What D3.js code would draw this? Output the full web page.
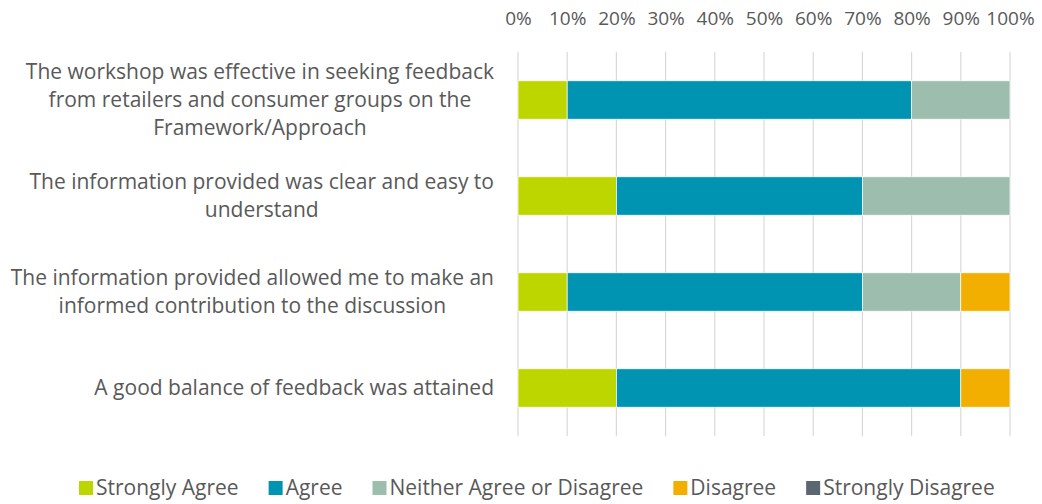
<!DOCTYPE html>
<html>
<head>
<meta charset="utf-8">
<script src="https://cdn.jsdelivr.net/npm/d3@7"></script>
<style>
  body { margin: 0; background: #fff; }
  svg text { font-family: "Open Sans", sans-serif; fill: #595959; }
</style>
</head>
<body>
<div id="chart"></div>
<script>
// data
var categories = [
  "The workshop was effective in seeking feedback|from retailers and consumer groups on the|Framework/Approach",
  "The information provided was clear and easy to|understand",
  "The information provided allowed me to make an|informed contribution to the discussion",
  "A good balance of feedback was attained"
]
var seriesNames = ["Strongly Agree", "Agree", "Neither Agree or Disagree", "Disagree", "Strongly Disagree"]
var seriesColors = ["#bed600", "#0093b2", "#9dbdaf", "#f2af00", "#5b6770"]
var stronglyAgree = [10, 20, 10, 20]
var agree = [70, 50, 60, 70]
var neither = [20, 30, 20, 0]
var disagree = [0, 0, 10, 10]
var stronglyDisagree = [0, 0, 0, 0]
var tickValues = [0, 10, 20, 30, 40, 50, 60, 70, 80, 90, 100]

var W = 1042, H = 504
var margin = {top: 52, right: 32, bottom: 68, left: 518}
var width = W - margin.left - margin.right,
    height = H - margin.top - margin.bottom

var svg = d3.select("#chart").append("svg")
    .attr("width", W)
    .attr("height", H)

var g = svg.append("g")
    .attr("transform", "translate(" + margin.left + "," + margin.top + ")")

var x = d3.scaleLinear().domain([0, 100]).range([0, width])
var y = d3.scaleBand().domain(d3.range(categories.length)).range([0, height]).paddingInner(0.6).paddingOuter(0.3)

// gridlines
g.append("g").selectAll("line")
  .data(tickValues)
  .enter().append("line")
    .attr("x1", d => x(d)).attr("x2", d => x(d))
    .attr("y1", 0).attr("y2", height)
    .attr("stroke", "#d9d9d9").attr("stroke-width", 1.2)

// top axis labels
var xAxis = g.append("g")
  .call(d3.axisTop(x).tickValues(tickValues).tickSize(0).tickPadding(0).tickFormat(d => d + "%"))
xAxis.select(".domain").remove()
xAxis.selectAll("text")
  .attr("y", -27)
  .style("font-size", "19px")

// stacked bars
var rows = categories.map(function(c, i) {
  return {i: i, vals: [stronglyAgree[i], agree[i], neither[i], disagree[i], stronglyDisagree[i]]}
})
rows.forEach(function(r) {
  var acc = 0
  r.vals.forEach(function(v, k) {
    if (v > 0) {
      g.append("rect")
        .attr("x", x(acc))
        .attr("y", y(r.i))
        .attr("width", x(acc + v) - x(acc))
        .attr("height", y.bandwidth())
        .attr("fill", seriesColors[k])
        .attr("stroke", "#fff").attr("stroke-width", 0.7)
    }
    acc += v
  })
})

// category labels (right aligned block, lines centered)
var lineH = 28
categories.forEach(function(c, i) {
  var lines = c.split("|")
  var cy = y(i) + y.bandwidth() / 2
  var t = svg.append("text")
    .attr("text-anchor", "middle")
    .style("font-size", "21px")
  lines.forEach(function(l, j) {
    t.append("tspan")
      .attr("x", 0)
      .attr("y", margin.top + cy + (j - (lines.length - 1) / 2) * lineH + 7)
      .text(l)
  })
  var bw = 0
  t.selectAll("tspan").each(function() { bw = Math.max(bw, this.getComputedTextLength()) })
  t.selectAll("tspan").attr("x", 494 - bw / 2)
})

// legend
var legend = svg.append("g").attr("class", "legend")
var lx = 79
seriesNames.forEach(function(n, k) {
  legend.append("rect")
    .attr("x", lx).attr("y", 481).attr("width", 14).attr("height", 14)
    .attr("fill", seriesColors[k])
  var t = legend.append("text")
    .attr("x", lx + 17).attr("y", 495)
    .style("font-size", "21px")
    .text(n)
  lx += 17 + t.node().getComputedTextLength() + 30
})
</script>
</body>
</html>
